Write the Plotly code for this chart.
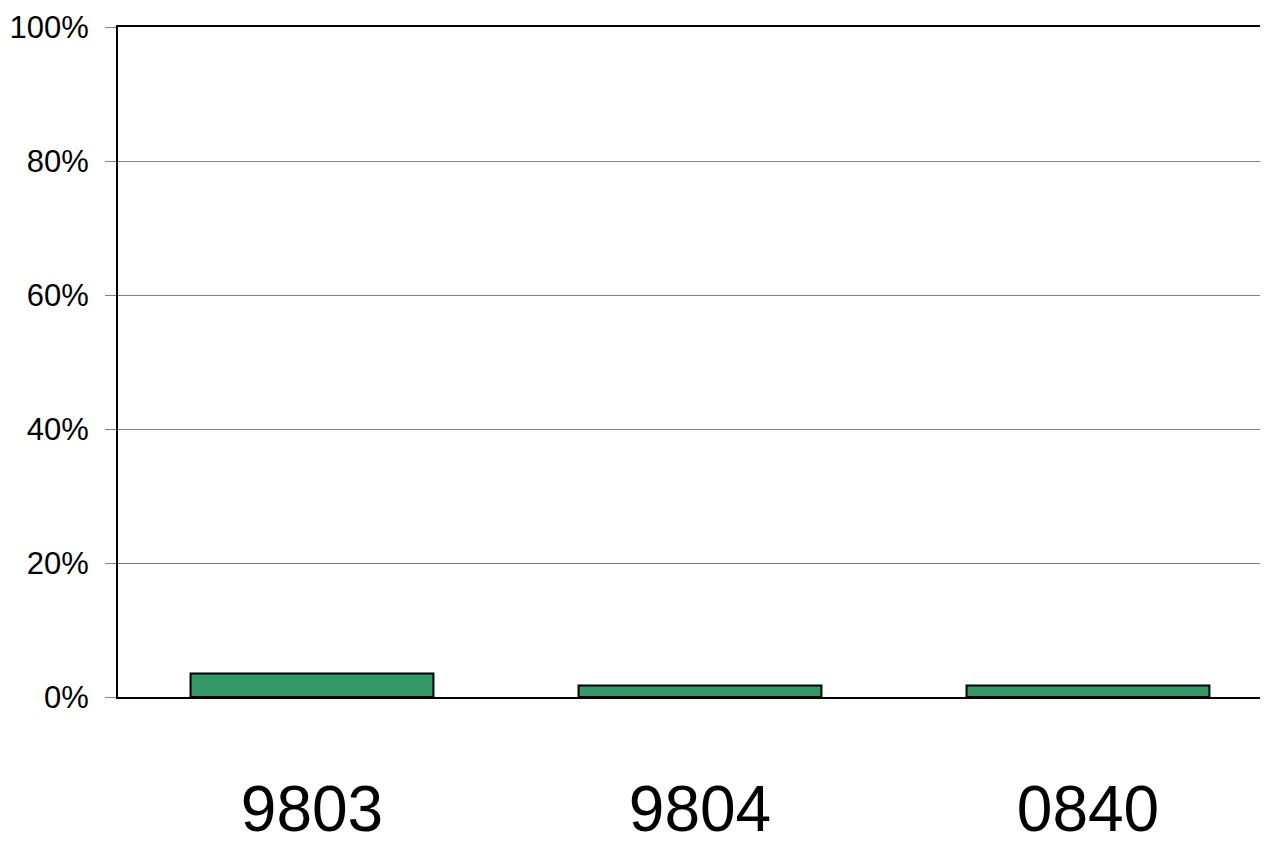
import plotly.graph_objects as go

categories = ["9803", "9804", "0840"]
values = [3.5, 1.7, 1.7]
y_ticks = [0, 20, 40, 60, 80, 100]
y_tick_labels = ["0%", "20%", "40%", "60%", "80%", "100%"]

fig = go.Figure()
fig.add_trace(go.Bar(
    x=categories, y=values,
    marker=dict(color="#339966", line=dict(color="#000000", width=2)),
    width=0.626,
))

fig.update_layout(
    width=1260, height=840,
    margin=dict(l=110, r=0, t=19, b=151, autoexpand=False),
    paper_bgcolor="white", plot_bgcolor="white",
    showlegend=False,
    font=dict(family="Liberation Sans, Arial, sans-serif", color="black"),
)
fig.update_xaxes(
    type="category", automargin=False,
    range=[-0.5, 2.464],
    showline=True, linecolor="black", linewidth=2, mirror=True,
    ticks="", tickfont=dict(size=64), ticklabelstandoff=55,
    showgrid=False,
)
fig.update_yaxes(
    range=[0, 100], automargin=False,
    tickvals=y_ticks, ticktext=y_tick_labels,
    tickfont=dict(size=31), ticklabelstandoff=10,
    showline=True, linecolor="black", linewidth=2,
    ticks="outside", ticklen=11, tickcolor="#808080", tickwidth=1,
    showgrid=True, gridcolor="#808080", gridwidth=1,
    zeroline=False,
)

fig.write_html("out.html")
